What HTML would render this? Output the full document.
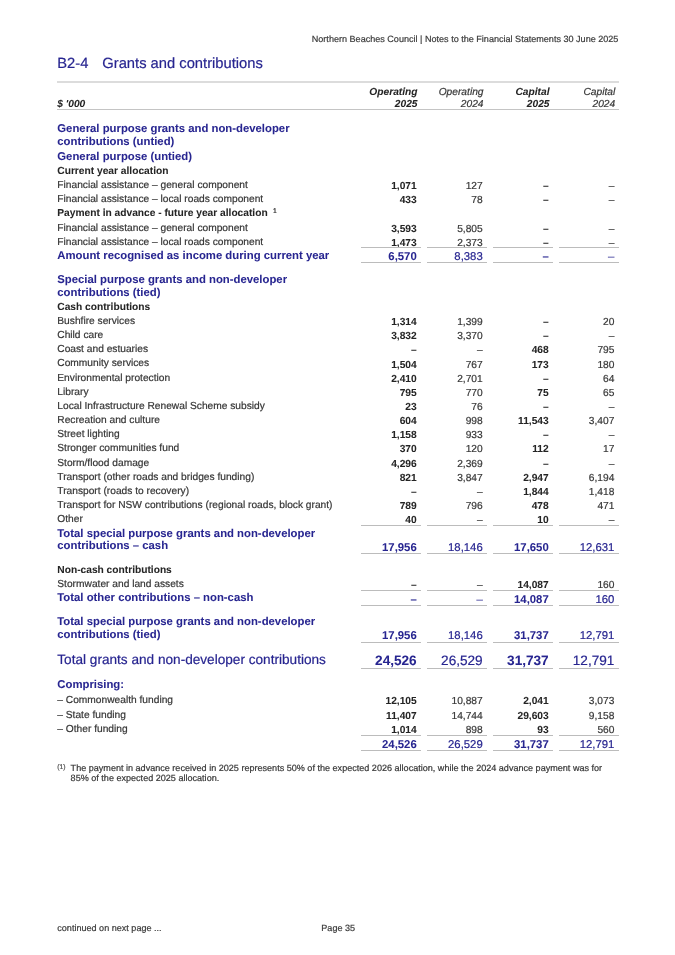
<!DOCTYPE html>
<html><head><meta charset="utf-8"><title>B2-4 Grants and contributions</title>
<style>
html,body{margin:0;padding:0;background:#fff;}
body{width:675px;height:955px;position:relative;overflow:hidden;font-family:"Liberation Sans",sans-serif;}
#pg{position:absolute;left:0;top:0;width:675px;height:955px;will-change:transform;text-rendering:geometricPrecision;}
.t{position:absolute;line-height:0;white-space:nowrap;-webkit-text-stroke:0.2px currentColor;}
.b{-webkit-text-stroke:0.05px currentColor;}
.l{position:absolute;}
</style></head><body><div id="pg">
<div class="t" style="top:39.00px;font-size:9.07px;color:#3a3a3a;right:56.60px;">Northern Beaches Council | Notes to the Financial Statements 30 June 2025</div>
<div class="t" style="top:64.00px;font-size:14.74px;color:#272590;left:57.30px;">B2-4</div>
<div class="t" style="top:64.00px;font-size:14.74px;color:#272590;left:102.30px;">Grants and contributions</div>
<div class="l" style="left:57.00px;top:81px;width:562.00px;height:2px;background:#dcdcdc"></div>
<div class="t b" style="top:105.00px;font-size:10.21px;color:#242424;font-weight:700;font-style:italic;left:57.30px;">$ '000</div>
<div class="t b" style="top:93.00px;font-size:10.21px;color:#242424;font-weight:700;font-style:italic;right:257.50px;">Operating</div>
<div class="t b" style="top:105.00px;font-size:10.21px;color:#242424;font-weight:700;font-style:italic;right:257.50px;">2025</div>
<div class="t" style="top:93.00px;font-size:10.21px;color:#363636;font-style:italic;right:191.50px;">Operating</div>
<div class="t" style="top:105.00px;font-size:10.21px;color:#363636;font-style:italic;right:191.50px;">2024</div>
<div class="t b" style="top:93.00px;font-size:10.21px;color:#242424;font-weight:700;font-style:italic;right:125.50px;">Capital</div>
<div class="t b" style="top:105.00px;font-size:10.21px;color:#242424;font-weight:700;font-style:italic;right:125.50px;">2025</div>
<div class="t" style="top:93.00px;font-size:10.21px;color:#363636;font-style:italic;right:59.80px;">Capital</div>
<div class="t" style="top:105.00px;font-size:10.21px;color:#363636;font-style:italic;right:59.80px;">2024</div>
<div class="l" style="left:57.00px;top:109px;width:562.00px;height:1px;background:#c4c4c4"></div>
<div class="t b" style="top:129.00px;font-size:11.34px;color:#272590;font-weight:700;left:57.30px;">General purpose grants and non-developer</div>
<div class="t b" style="top:142.00px;font-size:11.34px;color:#272590;font-weight:700;left:57.30px;">contributions (untied)</div>
<div class="t b" style="top:157.00px;font-size:11.34px;color:#272590;font-weight:700;left:57.30px;">General purpose (untied)</div>
<div class="t b" style="top:172.00px;font-size:10.21px;color:#242424;font-weight:700;left:57.30px;">Current year allocation</div>
<div class="t" style="top:186.00px;font-size:10.21px;color:#363636;left:57.30px;">Financial assistance – general component</div>
<div class="t b" style="top:187.00px;font-size:10.21px;color:#242424;font-weight:700;right:258.30px;">1,071</div>
<div class="t" style="top:187.00px;font-size:10.21px;color:#363636;right:192.30px;">127</div>
<div class="t b" style="top:187.00px;font-size:10.21px;color:#242424;font-weight:700;right:126.30px;">–</div>
<div class="t" style="top:187.00px;font-size:10.21px;color:#363636;right:60.60px;">–</div>
<div class="t" style="top:200.00px;font-size:10.21px;color:#363636;left:57.30px;">Financial assistance – local roads component</div>
<div class="t b" style="top:201.00px;font-size:10.21px;color:#242424;font-weight:700;right:258.30px;">433</div>
<div class="t" style="top:201.00px;font-size:10.21px;color:#363636;right:192.30px;">78</div>
<div class="t b" style="top:201.00px;font-size:10.21px;color:#242424;font-weight:700;right:126.30px;">–</div>
<div class="t" style="top:201.00px;font-size:10.21px;color:#363636;right:60.60px;">–</div>
<div class="t b" style="top:214.00px;font-size:10.21px;color:#242424;font-weight:700;left:57.30px;">Payment in advance - future year allocation</div>
<div class="t" style="top:212.00px;font-size:6.8px;color:#242424;left:272.90px;">1</div>
<div class="t" style="top:229.00px;font-size:10.21px;color:#363636;left:57.30px;">Financial assistance – general component</div>
<div class="t b" style="top:230.00px;font-size:10.21px;color:#242424;font-weight:700;right:258.30px;">3,593</div>
<div class="t" style="top:230.00px;font-size:10.21px;color:#363636;right:192.30px;">5,805</div>
<div class="t b" style="top:230.00px;font-size:10.21px;color:#242424;font-weight:700;right:126.30px;">–</div>
<div class="t" style="top:230.00px;font-size:10.21px;color:#363636;right:60.60px;">–</div>
<div class="t" style="top:243.00px;font-size:10.21px;color:#363636;left:57.30px;">Financial assistance – local roads component</div>
<div class="t b" style="top:244.00px;font-size:10.21px;color:#242424;font-weight:700;right:258.30px;">1,473</div>
<div class="t" style="top:244.00px;font-size:10.21px;color:#363636;right:192.30px;">2,373</div>
<div class="t b" style="top:244.00px;font-size:10.21px;color:#242424;font-weight:700;right:126.30px;">–</div>
<div class="t" style="top:244.00px;font-size:10.21px;color:#363636;right:60.60px;">–</div>
<div class="l" style="left:361.00px;top:247px;width:60.40px;height:1px;background:#bcbcbc"></div>
<div class="l" style="left:427.00px;top:247px;width:60.40px;height:1px;background:#bcbcbc"></div>
<div class="l" style="left:493.00px;top:247px;width:60.40px;height:1px;background:#bcbcbc"></div>
<div class="l" style="left:558.70px;top:247px;width:60.40px;height:1px;background:#bcbcbc"></div>
<div class="t b" style="top:256.00px;font-size:11.34px;color:#272590;font-weight:700;left:57.30px;">Amount recognised as income during current year</div>
<div class="t b" style="top:257.00px;font-size:11.34px;color:#272590;font-weight:700;right:258.30px;">6,570</div>
<div class="t" style="top:257.00px;font-size:11.34px;color:#272590;right:192.30px;">8,383</div>
<div class="t b" style="top:257.00px;font-size:11.34px;color:#272590;font-weight:700;right:126.30px;">–</div>
<div class="t" style="top:257.00px;font-size:11.34px;color:#272590;right:60.60px;">–</div>
<div class="l" style="left:361.00px;top:262px;width:60.40px;height:1px;background:#bcbcbc"></div>
<div class="l" style="left:427.00px;top:262px;width:60.40px;height:1px;background:#bcbcbc"></div>
<div class="l" style="left:493.00px;top:262px;width:60.40px;height:1px;background:#bcbcbc"></div>
<div class="l" style="left:558.70px;top:262px;width:60.40px;height:1px;background:#bcbcbc"></div>
<div class="t b" style="top:280.00px;font-size:11.34px;color:#272590;font-weight:700;left:57.30px;">Special purpose grants and non-developer</div>
<div class="t b" style="top:293.00px;font-size:11.34px;color:#272590;font-weight:700;left:57.30px;">contributions (tied)</div>
<div class="t b" style="top:308.00px;font-size:10.21px;color:#242424;font-weight:700;left:57.30px;">Cash contributions</div>
<div class="t" style="top:322.00px;font-size:10.21px;color:#363636;left:57.30px;">Bushfire services</div>
<div class="t b" style="top:323.00px;font-size:10.21px;color:#242424;font-weight:700;right:258.30px;">1,314</div>
<div class="t" style="top:323.00px;font-size:10.21px;color:#363636;right:192.30px;">1,399</div>
<div class="t b" style="top:323.00px;font-size:10.21px;color:#242424;font-weight:700;right:126.30px;">–</div>
<div class="t" style="top:323.00px;font-size:10.21px;color:#363636;right:60.60px;">20</div>
<div class="t" style="top:336.00px;font-size:10.21px;color:#363636;left:57.30px;">Child care</div>
<div class="t b" style="top:337.00px;font-size:10.21px;color:#242424;font-weight:700;right:258.30px;">3,832</div>
<div class="t" style="top:337.00px;font-size:10.21px;color:#363636;right:192.30px;">3,370</div>
<div class="t b" style="top:337.00px;font-size:10.21px;color:#242424;font-weight:700;right:126.30px;">–</div>
<div class="t" style="top:337.00px;font-size:10.21px;color:#363636;right:60.60px;">–</div>
<div class="t" style="top:350.00px;font-size:10.21px;color:#363636;left:57.30px;">Coast and estuaries</div>
<div class="t b" style="top:351.00px;font-size:10.21px;color:#242424;font-weight:700;right:258.30px;">–</div>
<div class="t" style="top:351.00px;font-size:10.21px;color:#363636;right:192.30px;">–</div>
<div class="t b" style="top:351.00px;font-size:10.21px;color:#242424;font-weight:700;right:126.30px;">468</div>
<div class="t" style="top:351.00px;font-size:10.21px;color:#363636;right:60.60px;">795</div>
<div class="t" style="top:364.00px;font-size:10.21px;color:#363636;left:57.30px;">Community services</div>
<div class="t b" style="top:366.00px;font-size:10.21px;color:#242424;font-weight:700;right:258.30px;">1,504</div>
<div class="t" style="top:366.00px;font-size:10.21px;color:#363636;right:192.30px;">767</div>
<div class="t b" style="top:366.00px;font-size:10.21px;color:#242424;font-weight:700;right:126.30px;">173</div>
<div class="t" style="top:366.00px;font-size:10.21px;color:#363636;right:60.60px;">180</div>
<div class="t" style="top:379.00px;font-size:10.21px;color:#363636;left:57.30px;">Environmental protection</div>
<div class="t b" style="top:380.00px;font-size:10.21px;color:#242424;font-weight:700;right:258.30px;">2,410</div>
<div class="t" style="top:380.00px;font-size:10.21px;color:#363636;right:192.30px;">2,701</div>
<div class="t b" style="top:380.00px;font-size:10.21px;color:#242424;font-weight:700;right:126.30px;">–</div>
<div class="t" style="top:380.00px;font-size:10.21px;color:#363636;right:60.60px;">64</div>
<div class="t" style="top:393.00px;font-size:10.21px;color:#363636;left:57.30px;">Library</div>
<div class="t b" style="top:394.00px;font-size:10.21px;color:#242424;font-weight:700;right:258.30px;">795</div>
<div class="t" style="top:394.00px;font-size:10.21px;color:#363636;right:192.30px;">770</div>
<div class="t b" style="top:394.00px;font-size:10.21px;color:#242424;font-weight:700;right:126.30px;">75</div>
<div class="t" style="top:394.00px;font-size:10.21px;color:#363636;right:60.60px;">65</div>
<div class="t" style="top:407.00px;font-size:10.21px;color:#363636;left:57.30px;">Local Infrastructure Renewal Scheme subsidy</div>
<div class="t b" style="top:408.00px;font-size:10.21px;color:#242424;font-weight:700;right:258.30px;">23</div>
<div class="t" style="top:408.00px;font-size:10.21px;color:#363636;right:192.30px;">76</div>
<div class="t b" style="top:408.00px;font-size:10.21px;color:#242424;font-weight:700;right:126.30px;">–</div>
<div class="t" style="top:408.00px;font-size:10.21px;color:#363636;right:60.60px;">–</div>
<div class="t" style="top:421.00px;font-size:10.21px;color:#363636;left:57.30px;">Recreation and culture</div>
<div class="t b" style="top:422.00px;font-size:10.21px;color:#242424;font-weight:700;right:258.30px;">604</div>
<div class="t" style="top:422.00px;font-size:10.21px;color:#363636;right:192.30px;">998</div>
<div class="t b" style="top:422.00px;font-size:10.21px;color:#242424;font-weight:700;right:126.30px;">11,543</div>
<div class="t" style="top:422.00px;font-size:10.21px;color:#363636;right:60.60px;">3,407</div>
<div class="t" style="top:435.00px;font-size:10.21px;color:#363636;left:57.30px;">Street lighting</div>
<div class="t b" style="top:436.00px;font-size:10.21px;color:#242424;font-weight:700;right:258.30px;">1,158</div>
<div class="t" style="top:436.00px;font-size:10.21px;color:#363636;right:192.30px;">933</div>
<div class="t b" style="top:436.00px;font-size:10.21px;color:#242424;font-weight:700;right:126.30px;">–</div>
<div class="t" style="top:436.00px;font-size:10.21px;color:#363636;right:60.60px;">–</div>
<div class="t" style="top:449.00px;font-size:10.21px;color:#363636;left:57.30px;">Stronger communities fund</div>
<div class="t b" style="top:450.00px;font-size:10.21px;color:#242424;font-weight:700;right:258.30px;">370</div>
<div class="t" style="top:450.00px;font-size:10.21px;color:#363636;right:192.30px;">120</div>
<div class="t b" style="top:450.00px;font-size:10.21px;color:#242424;font-weight:700;right:126.30px;">112</div>
<div class="t" style="top:450.00px;font-size:10.21px;color:#363636;right:60.60px;">17</div>
<div class="t" style="top:464.00px;font-size:10.21px;color:#363636;left:57.30px;">Storm/flood damage</div>
<div class="t b" style="top:465.00px;font-size:10.21px;color:#242424;font-weight:700;right:258.30px;">4,296</div>
<div class="t" style="top:465.00px;font-size:10.21px;color:#363636;right:192.30px;">2,369</div>
<div class="t b" style="top:465.00px;font-size:10.21px;color:#242424;font-weight:700;right:126.30px;">–</div>
<div class="t" style="top:465.00px;font-size:10.21px;color:#363636;right:60.60px;">–</div>
<div class="t" style="top:478.00px;font-size:10.21px;color:#363636;left:57.30px;">Transport (other roads and bridges funding)</div>
<div class="t b" style="top:479.00px;font-size:10.21px;color:#242424;font-weight:700;right:258.30px;">821</div>
<div class="t" style="top:479.00px;font-size:10.21px;color:#363636;right:192.30px;">3,847</div>
<div class="t b" style="top:479.00px;font-size:10.21px;color:#242424;font-weight:700;right:126.30px;">2,947</div>
<div class="t" style="top:479.00px;font-size:10.21px;color:#363636;right:60.60px;">6,194</div>
<div class="t" style="top:492.00px;font-size:10.21px;color:#363636;left:57.30px;">Transport (roads to recovery)</div>
<div class="t b" style="top:493.00px;font-size:10.21px;color:#242424;font-weight:700;right:258.30px;">–</div>
<div class="t" style="top:493.00px;font-size:10.21px;color:#363636;right:192.30px;">–</div>
<div class="t b" style="top:493.00px;font-size:10.21px;color:#242424;font-weight:700;right:126.30px;">1,844</div>
<div class="t" style="top:493.00px;font-size:10.21px;color:#363636;right:60.60px;">1,418</div>
<div class="t" style="top:506.00px;font-size:10.21px;color:#363636;left:57.30px;">Transport for NSW contributions (regional roads, block grant)</div>
<div class="t b" style="top:507.00px;font-size:10.21px;color:#242424;font-weight:700;right:258.30px;">789</div>
<div class="t" style="top:507.00px;font-size:10.21px;color:#363636;right:192.30px;">796</div>
<div class="t b" style="top:507.00px;font-size:10.21px;color:#242424;font-weight:700;right:126.30px;">478</div>
<div class="t" style="top:507.00px;font-size:10.21px;color:#363636;right:60.60px;">471</div>
<div class="t" style="top:520.00px;font-size:10.21px;color:#363636;left:57.30px;">Other</div>
<div class="t b" style="top:521.00px;font-size:10.21px;color:#242424;font-weight:700;right:258.30px;">40</div>
<div class="t" style="top:521.00px;font-size:10.21px;color:#363636;right:192.30px;">–</div>
<div class="t b" style="top:521.00px;font-size:10.21px;color:#242424;font-weight:700;right:126.30px;">10</div>
<div class="t" style="top:521.00px;font-size:10.21px;color:#363636;right:60.60px;">–</div>
<div class="l" style="left:361.00px;top:525px;width:60.40px;height:1px;background:#bcbcbc"></div>
<div class="l" style="left:427.00px;top:525px;width:60.40px;height:1px;background:#bcbcbc"></div>
<div class="l" style="left:493.00px;top:525px;width:60.40px;height:1px;background:#bcbcbc"></div>
<div class="l" style="left:558.70px;top:525px;width:60.40px;height:1px;background:#bcbcbc"></div>
<div class="t b" style="top:534.00px;font-size:11.34px;color:#272590;font-weight:700;left:57.30px;">Total special purpose grants and non-developer</div>
<div class="t b" style="top:546.00px;font-size:11.34px;color:#272590;font-weight:700;left:57.30px;">contributions – cash</div>
<div class="t b" style="top:548.00px;font-size:11.34px;color:#272590;font-weight:700;right:258.30px;">17,956</div>
<div class="t" style="top:548.00px;font-size:11.34px;color:#272590;right:192.30px;">18,146</div>
<div class="t b" style="top:548.00px;font-size:11.34px;color:#272590;font-weight:700;right:126.30px;">17,650</div>
<div class="t" style="top:548.00px;font-size:11.34px;color:#272590;right:60.60px;">12,631</div>
<div class="l" style="left:361.00px;top:553px;width:60.40px;height:1px;background:#bcbcbc"></div>
<div class="l" style="left:427.00px;top:553px;width:60.40px;height:1px;background:#bcbcbc"></div>
<div class="l" style="left:493.00px;top:553px;width:60.40px;height:1px;background:#bcbcbc"></div>
<div class="l" style="left:558.70px;top:553px;width:60.40px;height:1px;background:#bcbcbc"></div>
<div class="t b" style="top:571.00px;font-size:10.21px;color:#242424;font-weight:700;left:57.30px;">Non-cash contributions</div>
<div class="t" style="top:585.00px;font-size:10.21px;color:#363636;left:57.30px;">Stormwater and land assets</div>
<div class="t b" style="top:586.00px;font-size:10.21px;color:#242424;font-weight:700;right:258.30px;">–</div>
<div class="t" style="top:586.00px;font-size:10.21px;color:#363636;right:192.30px;">–</div>
<div class="t b" style="top:586.00px;font-size:10.21px;color:#242424;font-weight:700;right:126.30px;">14,087</div>
<div class="t" style="top:586.00px;font-size:10.21px;color:#363636;right:60.60px;">160</div>
<div class="l" style="left:361.00px;top:590px;width:60.40px;height:1px;background:#bcbcbc"></div>
<div class="l" style="left:427.00px;top:590px;width:60.40px;height:1px;background:#bcbcbc"></div>
<div class="l" style="left:493.00px;top:590px;width:60.40px;height:1px;background:#bcbcbc"></div>
<div class="l" style="left:558.70px;top:590px;width:60.40px;height:1px;background:#bcbcbc"></div>
<div class="t b" style="top:598.00px;font-size:11.34px;color:#272590;font-weight:700;left:57.30px;">Total other contributions – non-cash</div>
<div class="t b" style="top:600.00px;font-size:11.34px;color:#272590;font-weight:700;right:258.30px;">–</div>
<div class="t" style="top:600.00px;font-size:11.34px;color:#272590;right:192.30px;">–</div>
<div class="t b" style="top:600.00px;font-size:11.34px;color:#272590;font-weight:700;right:126.30px;">14,087</div>
<div class="t" style="top:600.00px;font-size:11.34px;color:#272590;right:60.60px;">160</div>
<div class="l" style="left:361.00px;top:605px;width:60.40px;height:1px;background:#bcbcbc"></div>
<div class="l" style="left:427.00px;top:605px;width:60.40px;height:1px;background:#bcbcbc"></div>
<div class="l" style="left:493.00px;top:605px;width:60.40px;height:1px;background:#bcbcbc"></div>
<div class="l" style="left:558.70px;top:605px;width:60.40px;height:1px;background:#bcbcbc"></div>
<div class="t b" style="top:622.00px;font-size:11.34px;color:#272590;font-weight:700;left:57.30px;">Total special purpose grants and non-developer</div>
<div class="t b" style="top:635.00px;font-size:11.34px;color:#272590;font-weight:700;left:57.30px;">contributions (tied)</div>
<div class="t b" style="top:636.00px;font-size:11.34px;color:#272590;font-weight:700;right:258.30px;">17,956</div>
<div class="t" style="top:636.00px;font-size:11.34px;color:#272590;right:192.30px;">18,146</div>
<div class="t b" style="top:636.00px;font-size:11.34px;color:#272590;font-weight:700;right:126.30px;">31,737</div>
<div class="t" style="top:636.00px;font-size:11.34px;color:#272590;right:60.60px;">12,791</div>
<div class="l" style="left:361.00px;top:642px;width:60.40px;height:1px;background:#bcbcbc"></div>
<div class="l" style="left:427.00px;top:642px;width:60.40px;height:1px;background:#bcbcbc"></div>
<div class="l" style="left:493.00px;top:642px;width:60.40px;height:1px;background:#bcbcbc"></div>
<div class="l" style="left:558.70px;top:642px;width:60.40px;height:1px;background:#bcbcbc"></div>
<div class="t" style="top:660.00px;font-size:13.61px;color:#272590;left:57.30px;">Total grants and non-developer contributions</div>
<div class="t b" style="top:661.00px;font-size:13.61px;color:#272590;font-weight:700;right:258.30px;">24,526</div>
<div class="t" style="top:661.00px;font-size:13.61px;color:#272590;right:192.30px;">26,529</div>
<div class="t b" style="top:661.00px;font-size:13.61px;color:#272590;font-weight:700;right:126.30px;">31,737</div>
<div class="t" style="top:661.00px;font-size:13.61px;color:#272590;right:60.60px;">12,791</div>
<div class="l" style="left:361.00px;top:668px;width:60.40px;height:1px;background:#bcbcbc"></div>
<div class="l" style="left:427.00px;top:668px;width:60.40px;height:1px;background:#bcbcbc"></div>
<div class="l" style="left:493.00px;top:668px;width:60.40px;height:1px;background:#bcbcbc"></div>
<div class="l" style="left:558.70px;top:668px;width:60.40px;height:1px;background:#bcbcbc"></div>
<div class="t b" style="top:685.00px;font-size:11.34px;color:#272590;font-weight:700;left:57.30px;">Comprising:</div>
<div class="t" style="top:701.00px;font-size:10.21px;color:#363636;left:57.30px;">– Commonwealth funding</div>
<div class="t b" style="top:702.00px;font-size:10.21px;color:#242424;font-weight:700;right:258.30px;">12,105</div>
<div class="t" style="top:702.00px;font-size:10.21px;color:#363636;right:192.30px;">10,887</div>
<div class="t b" style="top:702.00px;font-size:10.21px;color:#242424;font-weight:700;right:126.30px;">2,041</div>
<div class="t" style="top:702.00px;font-size:10.21px;color:#363636;right:60.60px;">3,073</div>
<div class="t" style="top:716.00px;font-size:10.21px;color:#363636;left:57.30px;">– State funding</div>
<div class="t b" style="top:717.00px;font-size:10.21px;color:#242424;font-weight:700;right:258.30px;">11,407</div>
<div class="t" style="top:717.00px;font-size:10.21px;color:#363636;right:192.30px;">14,744</div>
<div class="t b" style="top:717.00px;font-size:10.21px;color:#242424;font-weight:700;right:126.30px;">29,603</div>
<div class="t" style="top:717.00px;font-size:10.21px;color:#363636;right:60.60px;">9,158</div>
<div class="t" style="top:730.00px;font-size:10.21px;color:#363636;left:57.30px;">– Other funding</div>
<div class="t b" style="top:731.00px;font-size:10.21px;color:#242424;font-weight:700;right:258.30px;">1,014</div>
<div class="t" style="top:731.00px;font-size:10.21px;color:#363636;right:192.30px;">898</div>
<div class="t b" style="top:731.00px;font-size:10.21px;color:#242424;font-weight:700;right:126.30px;">93</div>
<div class="t" style="top:731.00px;font-size:10.21px;color:#363636;right:60.60px;">560</div>
<div class="l" style="left:361.00px;top:735px;width:60.40px;height:1px;background:#bcbcbc"></div>
<div class="l" style="left:427.00px;top:735px;width:60.40px;height:1px;background:#bcbcbc"></div>
<div class="l" style="left:493.00px;top:735px;width:60.40px;height:1px;background:#bcbcbc"></div>
<div class="l" style="left:558.70px;top:735px;width:60.40px;height:1px;background:#bcbcbc"></div>
<div class="t b" style="top:745.00px;font-size:11.34px;color:#272590;font-weight:700;right:258.30px;">24,526</div>
<div class="t" style="top:745.00px;font-size:11.34px;color:#272590;right:192.30px;">26,529</div>
<div class="t b" style="top:745.00px;font-size:11.34px;color:#272590;font-weight:700;right:126.30px;">31,737</div>
<div class="t" style="top:745.00px;font-size:11.34px;color:#272590;right:60.60px;">12,791</div>
<div class="l" style="left:361.00px;top:750px;width:60.40px;height:1px;background:#bcbcbc"></div>
<div class="l" style="left:427.00px;top:750px;width:60.40px;height:1px;background:#bcbcbc"></div>
<div class="l" style="left:493.00px;top:750px;width:60.40px;height:1px;background:#bcbcbc"></div>
<div class="l" style="left:558.70px;top:750px;width:60.40px;height:1px;background:#bcbcbc"></div>
<div class="t" style="top:768.00px;font-size:6.8px;color:#505050;left:57.30px;">(1)</div>
<div class="t" style="top:768.00px;font-size:9.07px;color:#363636;left:70.60px;">The payment in advance received in 2025 represents 50% of the expected 2026 allocation, while the 2024 advance payment was for</div>
<div class="t" style="top:778.00px;font-size:9.07px;color:#363636;left:70.60px;">85% of the expected 2025 allocation.</div>
<div class="t" style="top:928.00px;font-size:9.07px;color:#3a3a3a;left:57.30px;">continued on next page ...</div>
<div class="t" style="top:928.00px;font-size:9.07px;color:#3a3a3a;left:321.30px;">Page 35</div>
</div></body></html>
